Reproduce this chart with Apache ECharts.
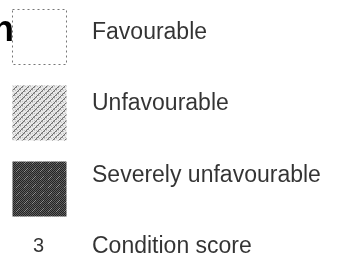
<!DOCTYPE html>
<html>
<head>
<meta charset="utf-8">
<script src="https://cdn.jsdelivr.net/npm/echarts@6/dist/echarts.min.js"></script>
<style>
  html, body { margin: 0; padding: 0; background: #fff; }
  #chart { width: 339px; height: 261px; }
</style>
</head>
<body>
<div id="chart"></div>
<script>
// legend rows, top to bottom
const rows       = ['Favourable', 'Unfavourable', 'Severely unfavourable', 'Condition score']
const swatchKind = ['favourable', 'unfavourable', 'severe']
const scoreKey   = '3'

const FONT = '"Liberation Sans", Arial, sans-serif'
const BOX_W = 54, BOX_H = 55

// small pixel textures for the swatches
function makePattern(size, pix) {
  const c = document.createElement('canvas')
  c.width = c.height = size
  const ctx = c.getContext('2d')
  for (let y = 0; y < size; y++) {
    for (let x = 0; x < size; x++) {
      const v = pix(x, y)
      ctx.fillStyle = `rgb(${v},${v},${v})`
      ctx.fillRect(x, y, 1, 1)
    }
  }
  return { image: c, repeat: 'repeat' }
}

// light grey with "/" hatching
const hatch = makePattern(12, (x, y) => {
  if ((x + y) % 6 === 0) return 110
  if ((x + y) % 6 === 1 && (x % 2 === 0)) return 160
  if ((x + y * 2) % 5 === 0) return 195
  return 232
})
// dark stipple
const stipple = makePattern(8, (x, y) => {
  if ((x + y) % 2 === 0) return 35
  if ((x + y) % 7 === 3) return 140
  return 95
})

const fills = {
  favourable:   { fill: '#fff', stroke: '#777', lineWidth: 1, lineDash: [2, 3] },
  unfavourable: { fill: hatch },
  severe:       { fill: stipple },
}

const chart = echarts.init(document.getElementById('chart'), null, { renderer: 'canvas' })

chart.setOption({
  animation: false,
  backgroundColor: '#fff',
  grid: [
    { left: 12, width: 54, top: -2, height: 305, outerBoundsMode: 'none' },        // swatches
    { left: 11.75, width: 107, top: -3.4, height: 286, outerBoundsMode: 'none' },  // texts
  ],
  xAxis: [
    { type: 'category', data: ['key'], gridIndex: 0, show: false },
    { type: 'category', data: ['key', 'text'], gridIndex: 1, show: false },
  ],
  yAxis: [
    { type: 'category', data: rows, gridIndex: 0, show: false, inverse: true },
    { type: 'category', data: rows, gridIndex: 1, show: false, inverse: true },
  ],
  graphic: [{
    // cut-off bold heading letter at the left edge
    type: 'text', x: -8, y: 31, silent: true,
    style: { text: 'n', font: `bold 36px ${FONT}`, fill: '#000', verticalAlign: 'middle' },
  }],
  series: [
    {
      type: 'custom', xAxisIndex: 0, yAxisIndex: 0, coordinateSystem: 'cartesian2d',
      data: swatchKind.map((k, i) => ['key', rows[i], k]),
      renderItem(params, api) {
        const pt = api.coord([api.value(0), api.value(1)])
        const kind = swatchKind[params.dataIndex]
        return {
          type: 'rect',
          shape: { x: Math.round(pt[0] - BOX_W / 2) + 0.5, y: Math.round(pt[1] - BOX_H / 2) + 0.5, width: BOX_W, height: BOX_H },
          style: fills[kind],
        }
      },
    },
    {
      type: 'scatter', xAxisIndex: 1, yAxisIndex: 1, symbolSize: 0,
      label: { show: true, position: 'right', distance: 0, formatter: p => p.value[1],
               fontFamily: FONT, fontSize: 23, color: '#000' },
      data: rows.map(r => ['text', r]),
    },
    {
      type: 'scatter', xAxisIndex: 1, yAxisIndex: 1, symbolSize: 0,
      label: { show: true, position: 'inside', formatter: scoreKey,
               fontFamily: FONT, fontSize: 20, color: '#000' },
      data: [['key', rows[3]]],
    },
  ],
})
</script>
</body>
</html>
